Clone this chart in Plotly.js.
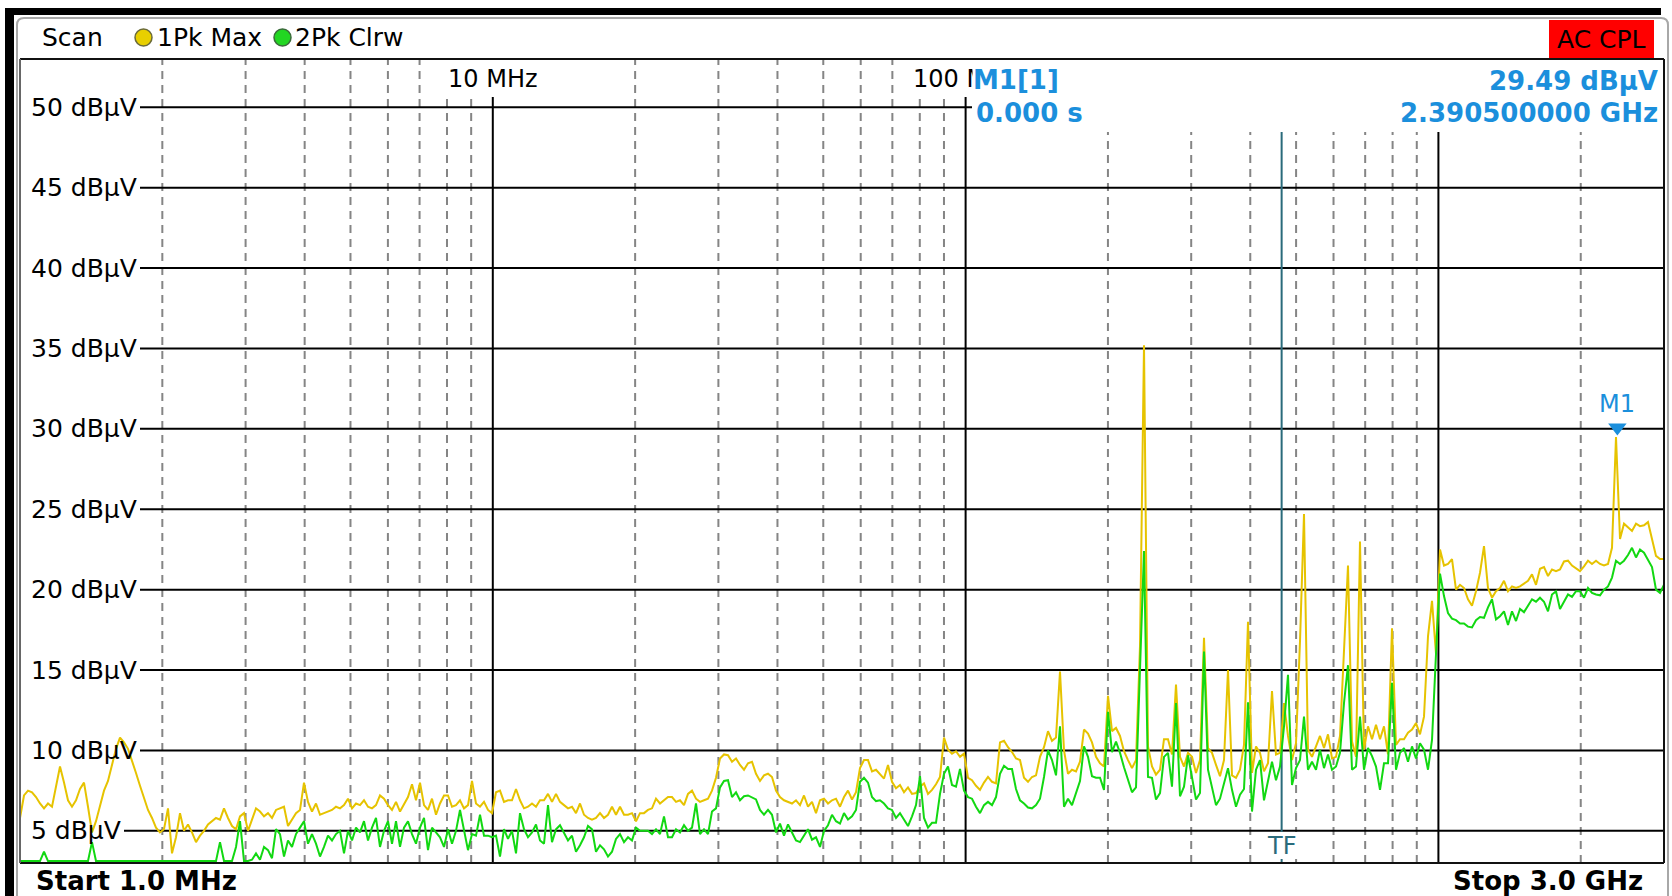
<!DOCTYPE html>
<html>
<head>
<meta charset="utf-8">
<script src="https://cdn.plot.ly/plotly-3.0.1.min.js"></script>
<style>
html,body{margin:0;padding:0;background:#fff;overflow:hidden}
#chart{width:1672px;height:896px}
</style>
</head>
<body>
<div id="chart"></div>
<script>
// ---------- sweep definition ----------
const startMHz = 1;
const stopMHz = 3000;

// ---------- trace 1: 1Pk Max (dBµV) ----------
const maxHold = [
5.8,7.2,7.5,7.4,7.1,6.7,6.4,6.7,6.5,7.8,
9.0,8.0,6.9,6.5,6.9,7.6,8.0,6.5,4.9,5.6,
6.5,7.5,8.1,9.2,10.1,10.8,10.5,10.1,9.4,8.6,
7.8,7.0,6.3,5.8,5.2,4.9,5.1,6.4,3.6,4.6,
6.1,5.0,5.4,4.9,4.3,4.7,5.0,5.4,5.6,5.8,
5.7,6.4,5.8,5.3,5.1,5.9,6.1,5.0,5.7,6.4,
6.2,5.9,6.1,5.8,6.3,6.4,6.5,5.3,5.7,6.1,
6.3,8.0,6.8,6.2,6.7,6.0,6.1,6.2,6.3,6.5,
6.4,6.6,7.0,6.4,6.7,6.6,6.9,6.5,6.4,6.6,
7.2,7.0,6.6,6.3,6.8,6.2,6.7,7.1,7.9,6.9,
8.0,6.6,6.3,7.0,
6.0,6.7,7.2,7.2,6.5,6.6,6.9,6.4,6.6,8.1,
6.7,6.5,6.8,6.3,6.1,7.4,7.5,6.8,6.9,6.9,
7.6,6.9,6.4,6.5,6.7,6.5,6.9,6.9,7.3,6.8,
7.3,6.8,6.6,6.4,6.5,6.1,6.7,6.0,5.8,5.7,
5.8,6.1,5.8,6.0,6.5,6.0,6.5,6.0,6.0,6.1,
5.6,6.1,6.1,6.3,6.4,7.0,6.7,6.9,7.1,7.1,
6.8,6.9,6.6,7.3,7.5,7.0,6.8,6.9,7.0,7.5,
8.3,9.5,9.75,9.7,9.3,9.5,9.1,8.8,9.2,9.3,
8.55,8.1,8.45,8.55,8.35,7.5,7.1,6.9,6.8,6.7,
6.9,6.6,7.2,6.5,6.8,6.1,6.9,7.0,6.7,6.9,
7.0,6.5,7.1,7.5,
6.95,7.4,8.9,9.4,9.4,8.7,8.8,8.55,8.25,9.1,
8.05,7.65,7.85,7.4,7.7,7.3,7.35,7.75,7.95,7.3,
7.55,7.9,8.35,10.8,10.05,9.8,9.95,9.6,9.8,8.3,
8.15,7.8,7.55,8.0,8.35,8.05,7.95,10.5,10.6,10.2,
9.9,9.5,9.4,8.3,8.05,8.35,8.45,9.6,10.2,11.2,
10.6,10.8,
14.9,10.0,8.55,8.8,8.7,9.3,11.3,11.05,10.5,9.6,
9.2,9.0,13.4,11.2,11.4,10.9,9.95,9.4,8.9,9.4,
16.5,35.2,10.25,9.0,8.5,8.8,10.7,10.7,9.75,14.1,
9.6,9.0,9.85,9.6,8.6,9.4,17.0,10.15,9.85,9.1,
8.4,9.4,15.0,8.45,8.3,8.8,10.35,18.0,8.6,10.25,
9.85,
8.7,9.2,13.7,9.75,9.85,12.95,10.9,9.4,10.45,16.8,
24.7,10.05,9.6,10.25,10.9,10.15,11.0,9.5,9.6,10.9,
16.3,21.5,10.55,9.6,23.0,10.05,11.5,10.7,11.6,10.7,
11.5,9.75,17.6,10.35,10.7,10.7,11.1,11.3,11.7,11.0,
12.1,17.1,19.3,16.0,22.5,21.5,
21.6,21.9,20.0,20.3,20.1,19.4,19.0,19.9,21.05,22.7,
20.1,19.5,19.9,20.1,20.55,19.9,20.2,20.1,20.2,20.4,
20.55,20.95,20.3,21.3,21.4,20.85,21.25,21.15,21.25,21.75,
21.8,21.5,21.3,21.15,21.45,21.8,21.6,21.8,21.6,21.5,
21.6,22.6,29.49,23.15,24.1,23.9,23.65,24.1,23.95,24.0,
24.2,23.15,22.1,21.9,21.9
];

// ---------- trace 2: 2Pk Clrw (dBµV), 3.12 = pinned at bottom of screen ----------
const clearWrite = [
3.12,3.12,3.12,3.12,3.12,3.12,3.7,3.12,3.12,3.12,
3.12,3.12,3.12,3.12,3.12,3.12,3.12,3.12,4.3,3.12,
3.12,3.12,3.12,3.12,3.12,3.12,3.12,3.12,3.12,3.12,
3.12,3.12,3.12,3.12,3.12,3.12,3.12,3.12,3.12,3.12,
3.12,3.12,3.12,3.12,3.12,3.12,3.12,3.12,3.12,3.12,
4.3,3.12,3.12,3.12,4.0,5.6,3.12,3.12,3.2,3.6,
3.2,4.0,3.8,3.3,5.1,4.8,3.4,4.4,4.0,4.8,
5.2,5.6,4.2,4.8,4.2,3.4,4.0,4.7,4.4,4.8,
5.0,3.6,5.0,4.4,5.2,4.9,5.6,4.4,5.2,5.8,
4.0,5.0,5.6,4.2,5.6,4.0,5.2,5.6,4.8,4.2,
5.2,5.8,3.8,5.2,
4.9,4.6,4.0,5.1,4.2,5.0,6.3,5.1,3.8,4.8,
4.7,6.0,4.7,4.7,4.6,4.7,3.4,5.1,4.5,5.0,
3.6,6.1,5.1,4.6,4.9,5.4,4.4,4.2,6.6,4.3,
5.1,5.35,4.9,4.4,4.7,3.7,4.1,4.6,5.3,5.1,
3.7,4.1,3.85,3.4,3.7,4.5,4.8,4.3,4.6,4.4,
5.2,5.0,5.0,5.0,4.8,5.1,4.8,5.9,4.6,4.6,
5.1,4.9,5.35,5.0,5.2,6.7,4.8,5.1,4.8,6.2,
6.4,7.7,8.1,8.15,7.1,7.4,6.9,7.15,7.2,7.1,
6.95,6.3,6.0,6.3,6.0,4.9,5.45,4.7,5.4,4.9,
4.4,4.3,4.7,5.1,4.45,4.6,4.0,5.0,5.35,6.0,
5.6,5.45,6.1,5.7,
5.9,6.3,8.05,8.3,8.0,7.1,6.85,6.9,6.7,6.4,
6.3,5.8,6.1,5.7,5.3,5.9,6.6,8.4,5.8,5.2,
5.5,5.5,7.3,8.55,9.0,7.85,7.75,8.85,7.5,7.1,
7.0,6.5,6.1,6.6,6.8,6.6,7.1,8.55,9.05,8.85,
8.85,7.6,6.9,6.7,6.45,6.4,6.6,7.0,8.35,10.0,
9.4,8.45,
11.5,6.5,7.0,6.6,7.35,8.1,10.25,9.6,8.4,8.3,
8.3,7.55,12.4,9.9,10.55,9.85,8.95,8.1,7.4,7.7,
15.5,22.4,8.35,8.3,6.95,7.35,9.6,9.85,7.75,12.95,
7.15,7.75,9.7,8.4,6.95,7.35,16.15,8.8,7.7,6.6,
7.0,7.95,8.9,7.55,6.5,7.25,7.6,13.0,6.2,8.8,
9.4,
6.9,8.1,9.3,8.15,9.0,11.5,14.7,7.85,8.9,9.4,
12.1,8.8,9.3,8.8,10.05,8.9,9.75,8.8,9.0,9.85,
12.95,15.3,8.8,9.0,12.1,8.8,10.15,9.65,9.0,7.55,
9.2,9.2,14.2,8.8,9.85,10.15,9.3,10.25,9.5,10.45,
10.05,8.8,10.65,16.0,21.0,19.6,
18.55,18.2,18.1,17.9,17.9,17.7,17.65,18.1,18.3,18.25,
18.9,19.4,18.15,18.35,18.65,17.8,18.65,18.05,18.8,18.6,
19.0,19.4,19.25,19.5,19.25,18.65,19.7,19.9,18.8,19.3,
19.7,19.55,19.9,19.9,19.5,20.1,19.8,19.7,19.65,20.0,
20.2,20.75,21.8,21.6,21.8,22.15,22.6,22.0,22.5,22.3,
21.8,21.4,20.0,19.8,20.3
];

// ---------- axes / labels ----------
const levelTicks = [5,10,15,20,25,30,35,40,45,50];
const levelLabels = levelTicks.map(v => v + ' dBµV');
const decadeFreqs = [10, 100, 1000];
const decadeLabels = ['10 MHz', '100 MHz', ''];
const minorFreqs = [2,3,4,5,6,7,8,9,20,30,40,50,60,70,80,90,200,300,400,500,600,700,800,900,2000];
const headerText = ['Scan', '1Pk Max', '2Pk Clrw'];
const m1Freq = 2390.5;
const m1Level = 29.49;
const m1Lines = ['M1[1]', '0.000 s', '29.49 dBµV', '2.390500000 GHz'];
const tfFreq = 466;
const startLabel = 'Start 1.0 MHz';
const stopLabel = 'Stop 3.0 GHz';

// sweep points of the analyser (log sweep)
const nPts = maxHold.length;
const freqs = maxHold.map((_, i) => startMHz * Math.pow(stopMHz / startMHz, i / (nPts - 1)));

// ---------- geometry helpers (pixel -> paper) ----------
const L = 20, R = 1664, T = 59, B = 863;
const W = R - L, H = B - T;
const px = X => (X - L) / W;
const py = Y => (B - Y) / H;

const FONT = 'DejaVu Sans';
const BLUE = '#1b8fdc';
const YEL = '#e6c300';
const GRN = '#12d812';
const TEAL = '#2a6b7b';

const shapes = [];
// minor (dashed) grid
minorFreqs.forEach(f => shapes.push({type:'line', xref:'x', yref:'paper', x0:f, x1:f, y0:0, y1:1,
  line:{color:'#858585', width:2, dash:'8px,6px'}, layer:'below'}));
// decade grid
decadeFreqs.forEach(f => shapes.push({type:'line', xref:'x', yref:'paper', x0:f, x1:f, y0:0, y1:1,
  line:{color:'#000', width:2}, layer:'below'}));
// level grid (starts right of each label)
levelTicks.forEach(v => shapes.push({type:'line', xref:'paper', yref:'y', x0:px(v >= 10 ? 140 : 124), x1:1, y0:v, y1:v,
  line:{color:'#000', width:2}, layer:'below'}));
// TF line
shapes.push({type:'line', xref:'x', yref:'paper', x0:tfFreq, x1:tfFreq, y0:0, y1:1, line:{color:TEAL, width:2}, layer:'below'});

// white covers (label boxes / marker info box)
const cover = (x0,x1,y0,y1) => shapes.push({type:'rect', xref:'paper', yref:'paper', x0:px(x0), x1:px(x1), y0:py(y1), y1:py(y0),
  fillcolor:'#fff', line:{width:0}, layer:'above'});
cover(438, 548, 60, 97);
cover(908, 972, 60, 97);
cover(972, 1663, 60, 132);
cover(1266, 1298, 832, 859);

// plot frame
shapes.push({type:'line', xref:'paper', yref:'paper', x0:0, x1:1, y0:1, y1:1, line:{color:'#111', width:2}, layer:'above'});
shapes.push({type:'line', xref:'paper', yref:'paper', x0:0, x1:1, y0:0, y1:0, line:{color:'#111', width:2}, layer:'above'});
shapes.push({type:'line', xref:'paper', yref:'paper', x0:1, x1:1, y0:0, y1:1, line:{color:'#111', width:2}, layer:'above'});
shapes.push({type:'line', xref:'paper', yref:'paper', x0:0, x1:0, y0:0, y1:1, line:{color:'#666', width:2}, layer:'above'});

// outer screen decoration
shapes.push({type:'rect', xref:'paper', yref:'paper', x0:px(5), x1:px(1661), y0:py(15), y1:py(8), fillcolor:'#000', line:{width:0}});
shapes.push({type:'rect', xref:'paper', yref:'paper', x0:px(5), x1:px(14), y0:py(896), y1:py(8), fillcolor:'#000', line:{width:0}});
shapes.push({type:'path', xref:'paper', yref:'paper',
  path:'M'+px(17)+','+py(896)+' L'+px(17)+','+py(25)+' Q'+px(17)+','+py(18)+' '+px(24)+','+py(18)+
       ' L'+px(1661)+','+py(18)+' Q'+px(1668)+','+py(18)+' '+px(1668)+','+py(25)+' L'+px(1668)+','+py(896),
  line:{color:'#a8a8a8', width:2}});
// AC CPL red box
shapes.push({type:'rect', xref:'paper', yref:'paper', x0:px(1549), x1:px(1654), y0:py(58), y1:py(20), fillcolor:'#ff0000', line:{width:0}});
// trace indicator dots
shapes.push({type:'circle', xref:'paper', yref:'paper', x0:px(135), x1:px(152), y0:py(46), y1:py(29), fillcolor:'#e8cf00', line:{color:'#6a6a3a', width:1.5}});
shapes.push({type:'circle', xref:'paper', yref:'paper', x0:px(274), x1:px(291), y0:py(46), y1:py(29), fillcolor:'#22d622', line:{color:'#3a6a3a', width:1.5}});

const ann = [];
const txt = (o) => ann.push(Object.assign({showarrow:false, borderpad:0}, o));
// level labels
levelTicks.forEach((v, k) => txt({xref:'paper', yref:'y', x:px(30), y:v, xanchor:'left', yanchor:'middle',
  text:levelLabels[k], font:{family:FONT, size:25, color:'#000'}}));
// decade labels (the 100 MHz one is partly hidden by the marker info box, as on the instrument)
decadeFreqs.forEach((f, k) => { if (decadeLabels[k]) txt({xref:'x', yref:'paper', x:Math.log10(f), y:py(79), xanchor:'center', yanchor:'middle',
  text:decadeLabels[k], font:{family:FONT, size:24, color:'#000'}}); });
// marker info (first line carries the white info-box background)
txt({xref:'paper', yref:'paper', x:px(972), y:py(60), xanchor:'left', yanchor:'top', width:140, height:38, align:'left', valign:'middle',
  bgcolor:'#fff', text:'<b>'+m1Lines[0]+'</b>', font:{family:FONT, size:26, color:BLUE}});
txt({xref:'paper', yref:'paper', x:px(975), y:py(113), xanchor:'left', yanchor:'middle', text:'<b>'+m1Lines[1]+'</b>', font:{family:FONT, size:26, color:BLUE}});
txt({xref:'paper', yref:'paper', x:px(1659), y:py(81), xanchor:'right', yanchor:'middle', text:'<b>'+m1Lines[2]+'</b>', font:{family:FONT, size:26, color:BLUE}});
txt({xref:'paper', yref:'paper', x:px(1659), y:py(113), xanchor:'right', yanchor:'middle', text:'<b>'+m1Lines[3]+'</b>', font:{family:FONT, size:26, color:BLUE}});
// M1 label
txt({xref:'x', yref:'y', x:Math.log10(m1Freq), y:m1Level, yshift:33, xanchor:'center', yanchor:'middle', text:'M1', font:{family:FONT, size:24, color:BLUE}});
// TF label
txt({xref:'x', yref:'paper', x:Math.log10(tfFreq), y:py(846), xanchor:'center', yanchor:'middle', text:'TF', font:{family:FONT, size:24, color:TEAL}});
// header
txt({xref:'paper', yref:'paper', x:px(41), y:py(38), xanchor:'left', yanchor:'middle', text:headerText[0], font:{family:FONT, size:25, color:'#000'}});
txt({xref:'paper', yref:'paper', x:px(156), y:py(38), xanchor:'left', yanchor:'middle', text:headerText[1], font:{family:FONT, size:25, color:'#000'}});
txt({xref:'paper', yref:'paper', x:px(294), y:py(38), xanchor:'left', yanchor:'middle', text:headerText[2], font:{family:FONT, size:25, color:'#000'}});
txt({xref:'paper', yref:'paper', x:px(1601), y:py(39), xanchor:'center', yanchor:'middle', text:'AC CPL', font:{family:FONT, size:25, color:'#000'}});
// start / stop
txt({xref:'paper', yref:'paper', x:px(35), y:py(881), xanchor:'left', yanchor:'middle', text:'<b>'+startLabel+'</b>', font:{family:FONT, size:26, color:'#000'}});
txt({xref:'paper', yref:'paper', x:px(1644), y:py(881), xanchor:'right', yanchor:'middle', text:'<b>'+stopLabel+'</b>', font:{family:FONT, size:26, color:'#000'}});

const traces = [
  {x:freqs, y:maxHold, type:'scatter', mode:'lines', name:'1Pk Max', line:{color:YEL, width:2}, hoverinfo:'skip'},
  {x:freqs, y:clearWrite, type:'scatter', mode:'lines', name:'2Pk Clrw', line:{color:GRN, width:2}, hoverinfo:'skip'},
  {x:[m1Freq], y:[m1Level + 0.6], type:'scatter', mode:'markers', name:'M1', marker:{symbol:'triangle-down', size:16, color:BLUE}, hoverinfo:'skip'}
];

const layout = {
  width:1672, height:896,
  margin:{l:L, r:1672-R, t:T, b:896-B, pad:0},
  paper_bgcolor:'#fff', plot_bgcolor:'#fff',
  showlegend:false,
  xaxis:{type:'log', range:[Math.log10(startMHz), Math.log10(stopMHz)], showgrid:false, zeroline:false,
         showticklabels:false, ticks:'', showline:false, fixedrange:true},
  yaxis:{range:[3, 53], showgrid:false, zeroline:false, showticklabels:false, ticks:'', showline:false, fixedrange:true},
  shapes:shapes,
  annotations:ann
};

Plotly.newPlot('chart', traces, layout, {staticPlot:true, displayModeBar:false});
</script>
</body>
</html>
